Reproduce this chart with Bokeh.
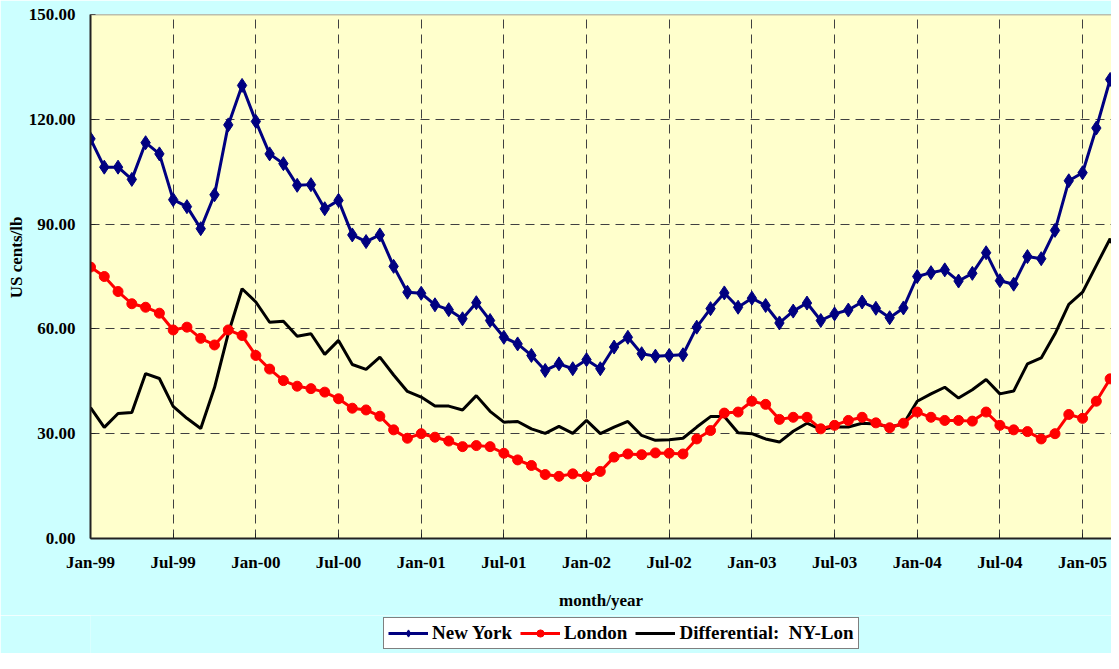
from bokeh.plotting import figure
from bokeh.layouts import column
from bokeh.models import FixedTicker, Legend, LegendItem, Span, Range1d, NumeralTickFormatter
from bokeh.embed import file_html
from bokeh.resources import INLINE

# Monthly values Jan-99 .. Apr-05 (US cents/lb)
new_york = [114.4, 106.3, 106.3, 102.8, 113.3, 110.1, 97.0, 95.0, 88.7, 98.4, 118.4, 129.7,
            119.4, 110.1, 107.3, 101.1, 101.3, 94.4, 96.8, 86.9, 85.0, 86.9, 77.9, 70.5,
            70.2, 66.9, 65.5, 62.9, 67.5, 62.4, 57.6, 55.7, 52.4, 48.1, 50.0, 48.6,
            51.2, 48.6, 54.8, 57.6, 52.9, 52.2, 52.4, 52.6, 60.5, 65.8, 70.3, 66.2,
            68.8, 66.7, 61.7, 65.1, 67.4, 62.4, 64.3, 65.4, 67.7, 65.9, 63.2, 66.0,
            75.0, 76.1, 76.9, 73.7, 75.9, 81.8, 73.8, 72.8, 80.7, 80.1, 88.2, 102.4,
            104.7, 117.5, 131.4, 125.0]
london = [77.7, 75.0, 70.7, 67.2, 66.2, 64.5, 59.7, 60.5, 57.3, 55.4, 59.7, 58.1,
          52.4, 48.5, 45.2, 43.6, 42.9, 41.9, 40.0, 37.3, 36.8, 35.0, 31.1, 28.7,
          30.0, 29.0, 27.9, 26.3, 26.6, 26.3, 24.4, 22.5, 20.9, 18.3, 17.8, 18.5,
          17.7, 19.2, 23.3, 24.2, 24.0, 24.5, 24.4, 24.2, 28.5, 30.9, 35.9, 36.2,
          39.3, 38.4, 34.1, 34.7, 34.7, 31.4, 32.4, 33.8, 34.7, 33.1, 31.7, 33.0,
          36.2, 34.7, 33.8, 33.8, 33.6, 36.2, 32.4, 31.1, 30.6, 28.5, 30.0, 35.5,
          34.4, 39.3, 45.7, 49.0]
differential = [37.5, 31.8, 35.8, 36.1, 47.2, 45.8, 37.8, 34.4, 31.5, 43.2, 58.7, 71.5,
                67.7, 61.9, 62.2, 57.9, 58.6, 52.7, 56.7, 49.8, 48.4, 51.9, 46.8, 42.1,
                40.5, 37.9, 37.9, 36.8, 40.9, 36.4, 33.3, 33.5, 31.4, 30.1, 32.1, 30.1,
                33.8, 30.0, 31.9, 33.5, 29.5, 28.1, 28.3, 28.7, 31.9, 34.9, 34.9, 30.3,
                30.0, 28.5, 27.6, 30.7, 33.0, 31.2, 31.9, 31.9, 33.0, 32.8, 31.9, 32.8,
                39.3, 41.4, 43.3, 40.2, 42.6, 45.5, 41.4, 42.2, 50.0, 51.7, 58.6, 67.0,
                70.5, 78.2, 85.8, 77.3]
tick_labels = ["Jan-99", "Jul-99", "Jan-00", "Jul-00", "Jan-01", "Jul-01", "Jan-02",
               "Jul-02", "Jan-03", "Jul-03", "Jan-04", "Jul-04", "Jan-05"]
y_ticks = [0, 30, 60, 90, 120, 150]
series_names = ["New York", "London", "Differential:  NY-Lon"]

months = list(range(len(new_york)))
tick_pos = [6 * i for i in range(len(tick_labels))]

FONT = "Liberation Serif"
BG = "#CCFFFF"
NY_C, LON_C, DIFF_C = "#000080", "#FF0000", "black"


def draw_series(fig):
    rd = fig.line(months, differential, line_color=DIFF_C, line_width=3)
    rl = fig.line(months, london, line_color=LON_C, line_width=3)
    rlm = fig.scatter(months, london, marker="circle", size=10, fill_color=LON_C, line_color=LON_C)
    rn = fig.line(months, new_york, line_color=NY_C, line_width=3)
    rnm = fig.scatter(months, new_york, marker="diamond", size=14, fill_color=NY_C, line_color=NY_C)
    return rn, rnm, rl, rlm, rd


p = figure(width=1111, height=615, output_backend="svg", toolbar_location=None,
           x_range=Range1d(0, 74.1), y_range=Range1d(0, 150),
           background_fill_color="#FFFFCC", border_fill_color=BG,
           outline_line_color=None,
           min_border_left=90, min_border_right=0, min_border_top=14, min_border_bottom=77)

for ax in (p.xaxis[0], p.yaxis[0]):
    ax.axis_line_color = "#222222"
    ax.axis_line_width = 2
    ax.major_tick_in = 5
    ax.major_tick_out = 0
    ax.major_tick_line_color = "#222222"
    ax.minor_tick_line_color = None
    ax.major_label_text_font = FONT
    ax.major_label_text_font_style = "bold"
    ax.major_label_text_font_size = "17px"
    ax.major_label_text_color = "black"
    ax.axis_label_text_font = FONT
    ax.axis_label_text_font_style = "bold"
    ax.axis_label_text_font_size = "17px"
    ax.axis_label_text_color = "black"

p.xaxis.ticker = FixedTicker(ticks=tick_pos)
p.xaxis.major_label_overrides = {t: l for t, l in zip(tick_pos, tick_labels)}
p.xaxis.major_label_standoff = 14
p.xaxis.axis_label = "month/year"
p.xaxis.axis_label_standoff = 16

p.yaxis.ticker = FixedTicker(ticks=y_ticks)
p.yaxis.formatter = NumeralTickFormatter(format="0.00")
p.yaxis.major_label_standoff = 15
p.yaxis.axis_label = "\u00a0" * 9 + "US cents/lb"
p.yaxis.axis_label_standoff = 0

for g in (p.xgrid[0], p.ygrid[0]):
    g.grid_line_color = "#404040"
    g.grid_line_dash = "9 6"
    g.grid_line_width = 1

p.add_layout(Span(location=150, dimension="width", line_color="#808080", line_width=1.5))

draw_series(p)

# Legend strip below the chart (its series lie outside its ranges; only the key shows)
lg = figure(width=1111, height=38, output_backend="svg", toolbar_location=None,
            x_range=Range1d(0, 1), y_range=Range1d(-20, -10),
            x_axis_type=None, y_axis_type=None,
            background_fill_color=BG, border_fill_color=BG, outline_line_color=None,
            min_border_left=0, min_border_right=0, min_border_top=0, min_border_bottom=0)
lg.xgrid.visible = False
lg.ygrid.visible = False
k_ny_l, k_ny_m, k_lon_l, k_lon_m, k_diff = draw_series(lg)

legend = Legend(items=[
    LegendItem(label=series_names[0], renderers=[k_ny_l, k_ny_m]),
    LegendItem(label=series_names[1], renderers=[k_lon_l, k_lon_m]),
    LegendItem(label=series_names[2], renderers=[k_diff]),
], orientation="horizontal", location=(293, 4),
    glyph_width=40, glyph_height=18, label_standoff=4, spacing=8, padding=4, margin=0,
    label_text_font=FONT, label_text_font_style="bold", label_text_font_size="19px",
    label_text_color="black", border_line_color="black", border_line_width=1,
    background_fill_color="white", background_fill_alpha=1)
lg.add_layout(legend, "center")

layout = column(p, lg, spacing=0)
open("out.html", "w").write(file_html(layout, INLINE))
